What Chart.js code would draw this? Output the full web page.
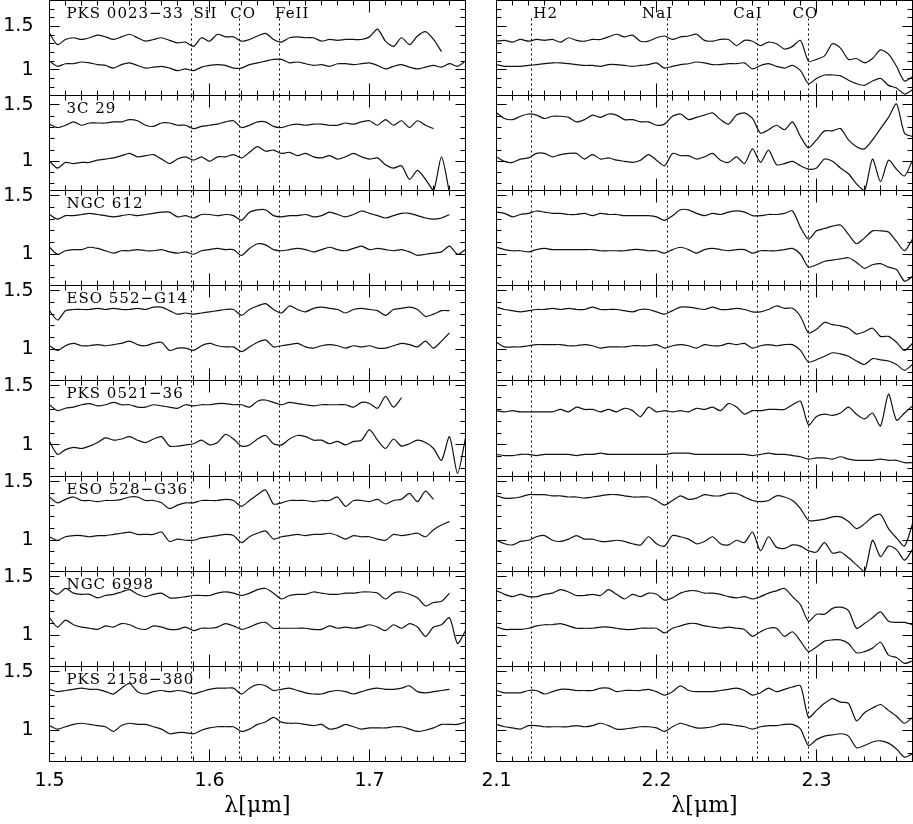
<!DOCTYPE html>
<html>
<head>
<meta charset="utf-8">
<script src="https://cdn.jsdelivr.net/npm/chart.js@4.4.1/dist/chart.umd.min.js"></script>
<style>
  html, body { margin: 0; padding: 0; background: #fff; }
  #wrap { position: relative; width: 913px; height: 824px; overflow: hidden; }
  #wrap canvas { position: absolute; left: 0; top: 0; }
</style>
</head>
<body>
<div id="wrap"></div>
<script>
// wavelength grids (micron), H band left, K band right
const hGrid = [1.500,1.505,1.510,1.515,1.520,1.525,1.530,1.535,1.540,1.545,1.550,1.555,1.560,1.565,1.570,1.575,1.580,1.585,1.590,1.595,1.600,1.605,1.610,1.615,1.620,1.625,1.630,1.635,1.640,1.645,1.650,1.655,1.660,1.665,1.670,1.675,1.680,1.685,1.690,1.695,1.700,1.705,1.710,1.715,1.720,1.725,1.730,1.735,1.740,1.745,1.750,1.755,1.760];
const kGrid = [2.100,2.105,2.110,2.115,2.120,2.125,2.130,2.135,2.140,2.145,2.150,2.155,2.160,2.165,2.170,2.175,2.180,2.185,2.190,2.195,2.200,2.205,2.210,2.215,2.220,2.225,2.230,2.235,2.240,2.245,2.250,2.255,2.260,2.265,2.270,2.275,2.280,2.285,2.290,2.295,2.300,2.305,2.310,2.315,2.320,2.325,2.330,2.335,2.340,2.345,2.350,2.355,2.360];

const sourceNames = ["PKS 0023\u221233", "3C 29", "NGC 612", "ESO 552\u2212G14", "PKS 0521\u221236", "ESO 528\u2212G36", "NGC 6998", "PKS 2158\u2212380"];

// absorption features (micron)
const hLines = [1.589, 1.619, 1.644];
const kLines = [2.122, 2.207, 2.263, 2.295];
const hLineNames = [["SiI", 1.590], ["CO", 1.613], ["FeII", 1.641]];
const kLineNames = [["H2", 2.123], ["NaI", 2.191], ["CaI", 2.248], ["CO", 2.285]];

const hTicks = [1.5, 1.6, 1.7];
const kTicks = [2.1, 2.2, 2.3];
const yTicks = [1, 1.5];

// spectra: a = upper (offset) spectrum, b = lower spectrum
const pks0023_H_a = [1.42,1.29,1.35,1.37,1.35,1.37,1.40,1.38,1.35,1.38,1.41,1.37,1.33,1.35,1.37,1.34,1.31,1.32,1.27,1.37,1.33,1.41,1.38,1.38,1.33,1.35,1.39,1.42,1.35,1.32,1.37,1.38,1.37,1.37,1.33,1.35,1.34,1.35,1.35,1.35,1.38,1.47,1.33,1.27,1.37,1.29,1.39,1.44,1.35,1.21];
const pks0023_H_b = [1.10,1.04,1.07,1.07,1.09,1.08,1.06,1.05,1.02,1.06,1.08,1.05,1.02,1.03,1.04,1.02,0.99,1.01,0.99,1.03,1.05,1.06,1.05,1.02,1.02,1.06,1.08,1.10,1.12,1.12,1.08,1.09,1.07,1.05,1.06,1.04,1.07,1.07,1.06,1.07,1.08,1.05,1.01,1.04,1.06,1.03,1.01,1.03,1.05,1.03,1.07,1.04,1.10];
const pks0023_K_a = [1.33,1.34,1.32,1.35,1.33,1.35,1.34,1.35,1.32,1.37,1.34,1.33,1.35,1.35,1.38,1.41,1.38,1.40,1.33,1.33,1.37,1.39,1.35,1.38,1.39,1.41,1.34,1.33,1.35,1.35,1.28,1.34,1.33,1.28,1.32,1.30,1.24,1.27,1.34,1.10,1.12,1.16,1.30,1.25,1.12,1.13,1.08,1.13,1.23,1.18,1.04,0.87,0.92];
const pks0023_K_b = [1.06,1.04,1.04,1.04,1.05,1.06,1.07,1.08,1.08,1.07,1.06,1.05,1.05,1.04,1.06,1.06,1.05,1.04,1.05,1.06,1.08,1.02,1.04,1.06,1.07,1.09,1.08,1.06,1.06,1.07,1.07,1.08,1.01,1.05,1.07,1.04,1.02,1.05,0.99,0.84,0.90,0.94,0.94,0.93,0.88,0.84,0.82,0.87,0.90,0.82,0.79,0.72,0.77];

const c29_H_a = [1.33,1.30,1.32,1.35,1.32,1.34,1.34,1.34,1.35,1.35,1.37,1.36,1.32,1.31,1.34,1.34,1.32,1.32,1.29,1.31,1.32,1.33,1.35,1.36,1.30,1.32,1.35,1.35,1.31,1.30,1.32,1.33,1.32,1.33,1.33,1.32,1.32,1.34,1.33,1.35,1.36,1.32,1.37,1.32,1.36,1.30,1.36,1.32,1.29];
const c29_H_b = [1.00,0.94,0.99,0.98,0.99,0.99,1.01,1.02,1.03,1.05,1.07,1.04,1.05,1.06,1.02,0.98,1.02,1.04,1.01,1.04,1.00,1.04,1.04,1.06,1.03,1.08,1.13,1.09,1.10,1.07,1.08,1.05,1.07,1.04,1.03,1.05,1.02,1.04,1.07,1.04,1.02,1.03,0.97,0.94,0.96,0.84,0.92,0.84,0.74,1.04,0.72];
const c29_K_a = [1.43,1.38,1.37,1.40,1.42,1.41,1.38,1.40,1.40,1.39,1.35,1.37,1.41,1.39,1.42,1.41,1.37,1.37,1.35,1.35,1.32,1.33,1.40,1.42,1.37,1.39,1.41,1.43,1.37,1.33,1.41,1.43,1.38,1.25,1.28,1.32,1.28,1.35,1.22,1.12,1.19,1.27,1.27,1.29,1.19,1.13,1.11,1.19,1.29,1.39,1.51,1.25,1.22];
const c29_K_b = [1.04,1.00,0.99,1.02,1.03,1.07,1.07,1.04,1.06,1.07,1.07,1.02,1.06,1.02,1.03,1.01,1.00,0.99,1.01,1.06,1.01,0.96,1.07,1.05,1.05,1.02,1.04,1.07,1.01,0.99,1.04,0.98,1.11,0.99,1.10,0.97,0.98,1.00,0.96,0.93,0.94,1.02,1.00,0.94,0.89,0.80,0.74,1.02,0.82,1.01,0.93,0.87,1.01];

const ngc612_H_a = [1.34,1.30,1.33,1.33,1.34,1.35,1.34,1.33,1.32,1.33,1.34,1.33,1.34,1.35,1.36,1.36,1.32,1.33,1.31,1.34,1.34,1.33,1.34,1.33,1.29,1.36,1.38,1.38,1.33,1.32,1.33,1.33,1.34,1.32,1.33,1.36,1.34,1.32,1.34,1.37,1.35,1.33,1.31,1.33,1.35,1.35,1.33,1.31,1.30,1.31,1.34];
const ngc612_H_b = [1.06,1.00,1.03,1.04,1.04,1.06,1.05,1.03,1.01,1.03,1.03,1.04,1.03,1.03,1.04,1.02,1.01,1.02,1.00,1.03,1.04,1.05,1.04,1.04,0.99,1.05,1.09,1.08,1.04,1.03,1.04,1.05,1.04,1.02,1.04,1.06,1.04,1.03,1.05,1.07,1.04,1.05,1.04,1.03,1.04,1.02,0.99,1.00,1.01,1.02,1.07,1.00,1.04];
const ngc612_K_a = [1.36,1.35,1.32,1.34,1.35,1.37,1.36,1.35,1.35,1.34,1.34,1.35,1.33,1.35,1.34,1.34,1.33,1.33,1.33,1.33,1.32,1.29,1.33,1.38,1.38,1.35,1.33,1.35,1.34,1.36,1.37,1.36,1.33,1.33,1.34,1.34,1.35,1.37,1.23,1.13,1.20,1.22,1.24,1.25,1.17,1.09,1.14,1.20,1.20,1.19,1.11,1.03,1.13];
const ngc612_K_b = [1.06,1.04,1.03,1.03,1.02,1.04,1.05,1.04,1.04,1.04,1.04,1.04,1.04,1.03,1.03,1.03,1.03,1.04,1.04,1.03,1.03,1.01,1.04,1.06,1.04,1.01,1.04,1.05,1.04,1.03,1.04,1.04,1.01,1.03,1.03,1.03,1.04,1.05,1.00,0.89,0.91,0.94,0.95,0.96,0.97,0.93,0.88,0.91,0.92,0.89,0.87,0.77,0.81];

const eso552_H_a = [1.33,1.25,1.33,1.34,1.34,1.34,1.35,1.34,1.35,1.34,1.34,1.35,1.34,1.36,1.36,1.33,1.30,1.31,1.30,1.31,1.32,1.33,1.34,1.34,1.29,1.34,1.37,1.39,1.34,1.31,1.37,1.34,1.32,1.35,1.36,1.35,1.34,1.31,1.34,1.35,1.34,1.33,1.29,1.34,1.35,1.36,1.34,1.28,1.30,1.33,1.33];
const eso552_H_b = [1.03,0.99,1.03,1.05,1.03,1.03,1.04,1.03,1.04,1.05,1.07,1.04,1.03,1.05,1.06,0.99,1.01,1.01,0.99,1.03,1.05,1.03,1.02,1.02,0.98,1.02,1.06,1.08,1.02,1.03,1.04,1.05,1.02,1.01,1.03,1.04,1.03,1.01,1.03,1.02,1.03,1.01,1.01,1.03,1.05,1.04,1.02,1.07,1.01,1.07,1.14];
const eso552_K_a = [1.36,1.34,1.33,1.32,1.33,1.34,1.34,1.35,1.34,1.35,1.34,1.34,1.36,1.34,1.34,1.34,1.33,1.32,1.34,1.34,1.32,1.30,1.33,1.36,1.36,1.35,1.34,1.36,1.34,1.34,1.35,1.34,1.32,1.32,1.34,1.37,1.35,1.35,1.28,1.14,1.17,1.23,1.21,1.20,1.18,1.13,1.15,1.18,1.11,1.11,1.06,0.99,1.05];
const eso552_K_b = [1.06,1.02,1.02,1.02,1.03,1.04,1.04,1.04,1.04,1.03,1.03,1.04,1.03,1.01,1.02,1.02,1.02,1.03,1.03,1.03,1.04,1.01,1.03,1.04,1.03,1.01,1.04,1.03,1.03,1.05,1.04,1.05,1.01,1.03,1.04,1.03,1.04,1.04,0.99,0.89,0.91,0.94,0.97,0.96,0.94,0.90,0.87,0.92,0.91,0.90,0.87,0.82,0.87];

const pks0521_H_a = [1.34,1.29,1.31,1.32,1.34,1.35,1.33,1.34,1.36,1.34,1.34,1.32,1.32,1.34,1.33,1.32,1.31,1.34,1.33,1.34,1.34,1.35,1.35,1.34,1.34,1.32,1.37,1.38,1.36,1.34,1.36,1.35,1.34,1.33,1.34,1.34,1.34,1.34,1.32,1.36,1.35,1.31,1.41,1.32,1.40];
const pks0521_H_b = [1.03,0.92,0.96,0.98,0.97,0.99,1.02,1.06,1.04,1.05,1.07,1.04,1.02,1.05,1.07,0.99,0.99,1.00,1.01,1.04,1.00,1.02,1.09,1.05,0.99,1.00,1.05,1.08,1.01,1.00,1.05,1.08,1.07,1.04,1.04,1.01,1.03,1.00,1.03,1.04,1.13,1.04,0.97,1.05,0.99,1.01,1.04,1.02,0.97,0.87,1.07,0.76,1.06];
const pks0521_K_a = [1.29,1.28,1.29,1.28,1.28,1.28,1.28,1.28,1.30,1.28,1.32,1.30,1.30,1.28,1.30,1.28,1.31,1.29,1.24,1.32,1.28,1.29,1.28,1.29,1.28,1.31,1.30,1.32,1.29,1.35,1.32,1.26,1.29,1.29,1.30,1.30,1.30,1.34,1.37,1.17,1.24,1.26,1.25,1.27,1.32,1.26,1.22,1.27,1.16,1.43,1.21,1.27,1.33];
const pks0521_K_b = [0.92,0.91,0.91,0.92,0.92,0.91,0.92,0.92,0.92,0.92,0.91,0.92,0.92,0.93,0.92,0.92,0.92,0.92,0.92,0.92,0.92,0.92,0.93,0.93,0.93,0.92,0.92,0.92,0.92,0.92,0.92,0.92,0.91,0.92,0.93,0.92,0.92,0.91,0.90,0.88,0.89,0.89,0.88,0.90,0.88,0.87,0.87,0.87,0.88,0.87,0.87,0.85,0.85];

const eso528_H_a = [1.37,1.32,1.35,1.37,1.34,1.34,1.33,1.34,1.34,1.35,1.37,1.37,1.34,1.34,1.32,1.27,1.30,1.32,1.32,1.34,1.34,1.34,1.35,1.34,1.29,1.34,1.39,1.43,1.31,1.32,1.34,1.34,1.34,1.33,1.34,1.34,1.37,1.29,1.34,1.34,1.33,1.35,1.31,1.34,1.35,1.40,1.33,1.42,1.35];
const eso528_H_b = [1.03,1.00,1.03,1.04,1.04,1.03,1.04,1.04,1.05,1.06,1.07,1.05,1.05,1.05,1.07,0.99,1.01,1.00,1.00,1.02,1.03,1.04,1.05,1.04,0.98,1.03,1.06,1.08,1.01,1.03,1.04,1.05,1.04,1.05,1.05,1.06,1.04,1.01,1.04,1.03,1.03,1.01,1.00,1.05,1.04,1.05,1.06,1.03,1.09,1.13,1.16];
const eso528_K_a = [1.38,1.36,1.36,1.37,1.39,1.39,1.39,1.38,1.38,1.37,1.37,1.36,1.37,1.38,1.39,1.39,1.38,1.37,1.37,1.37,1.34,1.30,1.34,1.38,1.35,1.36,1.39,1.38,1.38,1.40,1.40,1.37,1.34,1.33,1.34,1.38,1.37,1.34,1.27,1.17,1.17,1.18,1.20,1.20,1.16,1.10,1.14,1.20,1.22,1.10,1.02,0.95,1.14];
const eso528_K_b = [1.00,0.97,0.96,0.99,1.00,1.03,1.04,1.00,0.99,1.01,1.04,1.01,1.01,0.99,0.99,1.00,0.99,0.97,0.96,1.03,0.97,0.95,1.04,1.03,1.01,0.97,0.99,1.03,0.97,0.96,1.00,0.98,1.07,0.91,1.03,0.94,0.93,0.96,0.95,0.91,0.90,0.98,0.89,0.90,0.85,0.79,0.73,1.00,0.86,0.95,0.92,0.83,0.92];

const ngc6998_H_a = [1.39,1.35,1.40,1.36,1.35,1.35,1.32,1.34,1.35,1.37,1.39,1.35,1.33,1.35,1.36,1.32,1.32,1.33,1.34,1.34,1.34,1.36,1.37,1.36,1.34,1.36,1.39,1.40,1.36,1.31,1.34,1.35,1.35,1.37,1.36,1.35,1.35,1.36,1.36,1.37,1.37,1.36,1.31,1.36,1.37,1.35,1.32,1.25,1.28,1.29,1.36];
const ngc6998_H_b = [1.15,1.07,1.13,1.09,1.07,1.06,1.05,1.08,1.07,1.10,1.09,1.06,1.05,1.08,1.07,1.05,1.05,1.07,1.04,1.06,1.06,1.07,1.10,1.08,1.05,1.07,1.10,1.11,1.06,1.06,1.06,1.06,1.06,1.05,1.05,1.08,1.06,1.07,1.06,1.07,1.09,1.07,1.04,1.09,1.06,1.10,1.07,0.99,1.07,1.09,1.15,0.93,1.04];
const ngc6998_K_a = [1.38,1.35,1.33,1.35,1.33,1.33,1.35,1.36,1.39,1.37,1.34,1.34,1.35,1.34,1.39,1.35,1.31,1.35,1.33,1.36,1.35,1.30,1.32,1.36,1.38,1.38,1.36,1.36,1.35,1.33,1.32,1.33,1.31,1.33,1.36,1.38,1.40,1.33,1.26,1.12,1.18,1.18,1.23,1.24,1.21,1.06,1.10,1.15,1.20,1.12,1.11,1.11,1.09];
const ngc6998_K_b = [1.07,1.05,1.05,1.05,1.06,1.08,1.09,1.09,1.10,1.08,1.06,1.06,1.06,1.07,1.07,1.06,1.05,1.05,1.06,1.06,1.06,1.02,1.06,1.08,1.10,1.10,1.08,1.07,1.06,1.07,1.06,1.05,0.99,1.03,1.06,1.06,0.99,1.03,0.95,0.86,0.90,0.95,0.96,0.96,0.93,0.85,0.86,0.89,0.94,0.83,0.81,0.76,0.78];

const pks2158_H_a = [1.35,1.33,1.34,1.35,1.36,1.35,1.35,1.33,1.31,1.36,1.40,1.33,1.31,1.33,1.34,1.33,1.34,1.33,1.31,1.33,1.35,1.36,1.36,1.36,1.31,1.36,1.39,1.38,1.34,1.35,1.36,1.34,1.32,1.31,1.31,1.33,1.34,1.33,1.31,1.33,1.35,1.36,1.35,1.35,1.36,1.38,1.33,1.32,1.33,1.34,1.35];
const pks2158_H_b = [1.04,1.01,1.03,1.05,1.06,1.05,1.04,1.03,0.99,1.04,1.06,1.05,1.05,1.03,1.01,0.97,0.98,0.98,0.97,1.00,1.02,1.03,1.03,1.03,0.99,1.01,1.05,1.07,1.11,1.07,1.06,1.06,1.05,1.04,1.05,1.01,1.02,1.05,1.03,1.01,1.02,1.02,1.02,1.03,1.03,1.01,0.99,1.00,1.02,1.05,1.05,1.05,1.07];
const pks2158_K_a = [1.34,1.32,1.32,1.32,1.34,1.34,1.31,1.33,1.35,1.35,1.34,1.34,1.34,1.36,1.36,1.33,1.34,1.34,1.34,1.35,1.33,1.30,1.33,1.38,1.34,1.33,1.33,1.33,1.34,1.35,1.36,1.34,1.30,1.32,1.36,1.33,1.35,1.37,1.38,1.11,1.17,1.23,1.27,1.24,1.23,1.08,1.15,1.19,1.22,1.17,1.12,1.06,1.11];
const pks2158_K_b = [1.05,1.03,1.02,1.01,1.04,1.04,1.03,1.03,1.03,1.03,1.04,1.03,1.04,1.06,1.04,1.01,1.01,1.02,1.03,1.03,1.02,0.99,1.03,1.06,1.04,1.02,1.02,1.03,1.05,1.05,1.04,1.03,1.01,1.03,1.04,1.04,1.05,1.05,1.01,0.87,0.92,0.95,0.96,0.97,0.95,0.85,0.87,0.90,0.91,0.89,0.84,0.77,0.80];

const hSpectra = [
  [pks0023_H_a, pks0023_H_b], [c29_H_a, c29_H_b], [ngc612_H_a, ngc612_H_b], [eso552_H_a, eso552_H_b],
  [pks0521_H_a, pks0521_H_b], [eso528_H_a, eso528_H_b], [ngc6998_H_a, ngc6998_H_b], [pks2158_H_a, pks2158_H_b]
];
const kSpectra = [
  [pks0023_K_a, pks0023_K_b], [c29_K_a, c29_K_b], [ngc612_K_a, ngc612_K_b], [eso552_K_a, eso552_K_b],
  [pks0521_K_a, pks0521_K_b], [eso528_K_a, eso528_K_b], [ngc6998_K_a, ngc6998_K_b], [pks2158_K_a, pks2158_K_b]
];

// y range of each row
const yRanges = [[0.703, 1.80], [0.741, 1.584], [0.733, 1.545], [0.733, 1.545], [0.733, 1.545], [0.733, 1.545], [0.733, 1.545], [0.733, 1.545]];

// page geometry
const W = 913, H = 824;
const colLeft = [49.5, 496.5], colRight = [465.5, 912.5];
const rowEdges = [0.5, 95.5, 190.5, 285.5, 380.5, 476.5, 571.5, 666.5, 761.5];

const tickFont = { family: "DejaVu Sans", size: 19 };
const fmt = v => String(Math.round(v * 100) / 100);

function zeroPad(s) { s.paddingLeft = 0; s.paddingRight = 0; s.paddingTop = 0; s.paddingBottom = 0; }

// frame, inward ticks, feature lines and labels
const panelDeco = {
  id: "panelDeco",
  beforeDatasetsDraw(chart, args, opts) {
    const { ctx, chartArea: a, scales: { x } } = chart;
    ctx.save();
    ctx.strokeStyle = "#000";
    ctx.lineWidth = 1;
    ctx.setLineDash([2, 3]);
    opts.lines.forEach(w => {
      const px = Math.round(x.getPixelForValue(w) - 0.5) + 0.5;
      ctx.beginPath();
      ctx.moveTo(px, a.top + (opts.first ? 18 : 0));
      ctx.lineTo(px, a.bottom);
      ctx.stroke();
    });
    ctx.restore();
  },
  afterDatasetsDraw(chart, args, opts) {
    const { ctx, chartArea: a, scales: { x, y } } = chart;
    ctx.save();
    ctx.strokeStyle = "#000";
    ctx.lineWidth = 1;
    ctx.strokeRect(a.left, a.top, a.right - a.left, a.bottom - a.top);
    ctx.beginPath();
    for (let k = Math.ceil(x.min * 100 - 1e-6); k <= Math.floor(x.max * 100 + 1e-6); k++) {
      const px = Math.round(x.getPixelForValue(k / 100) - 0.5) + 0.5;
      const len = k % 10 === 0 ? 12 : 5;
      ctx.moveTo(px, a.top); ctx.lineTo(px, a.top + len);
      ctx.moveTo(px, a.bottom); ctx.lineTo(px, a.bottom - len);
    }
    for (let k = Math.ceil(y.min * 10 - 1e-6); k <= Math.floor(y.max * 10 + 1e-6); k++) {
      const py = Math.round(y.getPixelForValue(k / 10) - 0.5) + 0.5;
      const len = k % 5 === 0 ? 10 : 5;
      ctx.moveTo(a.left, py); ctx.lineTo(a.left + len, py);
      ctx.moveTo(a.right, py); ctx.lineTo(a.right - len, py);
    }
    ctx.stroke();

    ctx.fillStyle = "#000";
    ctx.font = '15px "DejaVu Serif"';
    ctx.letterSpacing = "1px";
    ctx.textAlign = "left";
    ctx.textBaseline = "alphabetic";
    if (opts.name) ctx.fillText(opts.name, a.left + 17, a.top + 17);
    (opts.labels || []).forEach(([t, w]) => ctx.fillText(t, x.getPixelForValue(w), a.top + 17));
    ctx.letterSpacing = "0px";
    ctx.restore();
  }
};

const wrap = document.getElementById("wrap");

function makePanel(r, c) {
  const canvas = document.createElement("canvas");
  canvas.width = W; canvas.height = H;
  wrap.appendChild(canvas);

  const isLeft = c === 0;
  const last = r === rowEdges.length - 2;
  const grid = isLeft ? hGrid : kGrid;
  const spectra = isLeft ? hSpectra[r] : kSpectra[r];
  const xTickVals = isLeft ? hTicks : kTicks;
  const nameLabel = isLeft ? sourceNames[r] : "";
  const lineNames = r === 0 ? (isLeft ? hLineNames : kLineNames) : [];

  new Chart(canvas, {
    type: "line",
    data: {
      datasets: spectra.map(s => ({
        data: s.map((v, i) => ({ x: grid[i], y: v })),
        borderColor: "#111",
        borderWidth: 1.2,
        pointRadius: 0,
        tension: 0.25,
        fill: false
      }))
    },
    options: {
      responsive: false,
      animation: false,
      events: [],
      layout: {
        padding: {
          left: isLeft ? 0 : colLeft[1],
          right: W - colRight[c],
          top: rowEdges[r],
          bottom: last ? 0 : H - rowEdges[r + 1]
        }
      },
      scales: {
        x: {
          type: "linear",
          min: isLeft ? 1.5 : 2.1,
          max: isLeft ? 1.76 : 2.36,
          display: last,
          grid: { display: false, drawTicks: false },
          border: { display: false },
          afterBuildTicks: s => { s.ticks = xTickVals.map(v => ({ value: v })); },
          afterFit: s => { if (last) { s.height = H - rowEdges[8]; zeroPad(s); } },
          ticks: { padding: 8, color: "#000", font: tickFont, callback: fmt, maxRotation: 0, autoSkip: false },
          title: {
            display: true,
            text: "\u03bb[\u03bcm]",
            color: "#000",
            font: { family: "DejaVu Serif", size: 22, lineHeight: 1 },
            padding: { top: 0, bottom: 7 }
          }
        },
        y: {
          type: "linear",
          min: yRanges[r][0],
          max: yRanges[r][1],
          display: isLeft,
          grid: { display: false, drawTicks: false },
          border: { display: false },
          afterBuildTicks: s => { s.ticks = yTicks.map(v => ({ value: v })); },
          afterFit: s => { if (isLeft) { s.width = colLeft[0]; zeroPad(s); } },
          ticks: { padding: 16, color: "#000", font: tickFont, callback: fmt, autoSkip: false }
        }
      },
      plugins: {
        legend: { display: false },
        tooltip: { enabled: false },
        panelDeco: {
          lines: isLeft ? hLines : kLines,
          first: r === 0,
          name: nameLabel,
          labels: lineNames
        }
      }
    },
    plugins: [panelDeco]
  });
}

for (let r = 0; r < 8; r++) {
  makePanel(r, 0);
  makePanel(r, 1);
}
</script>
</body>
</html>
